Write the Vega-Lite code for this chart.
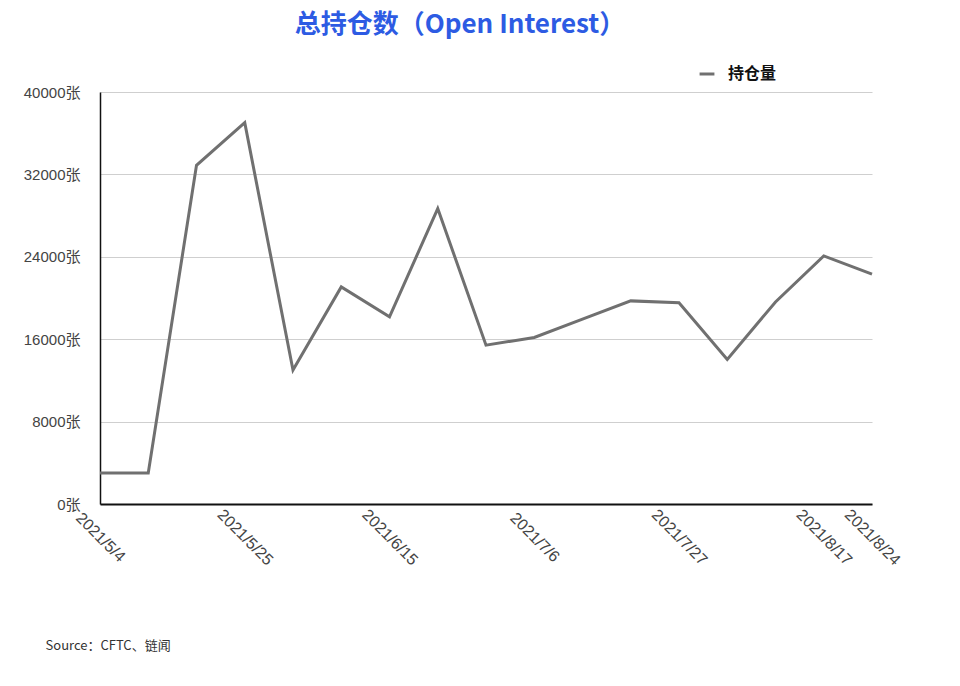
{
  "$schema": "https://vega.github.io/schema/vega-lite/v6.json",
  "width": 772,
  "height": 412,
  "autosize": {"type": "none"},
  "padding": {"left": 100, "top": 92, "right": 88, "bottom": 182},
  "background": "white",
  "title": {
    "text": "总持仓数（Open Interest）",
    "color": "#2d5be3",
    "font": "Liberation Sans Narrow, Noto Sans CJK SC",
    "fontSize": 26,
    "fontWeight": "bold",
    "anchor": "middle",
    "frame": "group",
    "dx": -26,
    "offset": 27
  },
  "data": {
    "values": [
      {"date": "2021/5/4", "series": "持仓量", "oi": 3000},
      {"date": "2021/5/11", "series": "持仓量", "oi": 3000},
      {"date": "2021/5/18", "series": "持仓量", "oi": 32880},
      {"date": "2021/5/25", "series": "持仓量", "oi": 37020},
      {"date": "2021/6/1", "series": "持仓量", "oi": 13000},
      {"date": "2021/6/8", "series": "持仓量", "oi": 21080},
      {"date": "2021/6/15", "series": "持仓量", "oi": 18170},
      {"date": "2021/6/22", "series": "持仓量", "oi": 28680},
      {"date": "2021/6/29", "series": "持仓量", "oi": 15420},
      {"date": "2021/7/6", "series": "持仓量", "oi": 16170},
      {"date": "2021/7/13", "series": "持仓量", "oi": 17940},
      {"date": "2021/7/20", "series": "持仓量", "oi": 19720},
      {"date": "2021/7/27", "series": "持仓量", "oi": 19530},
      {"date": "2021/8/3", "series": "持仓量", "oi": 14030},
      {"date": "2021/8/10", "series": "持仓量", "oi": 19620},
      {"date": "2021/8/17", "series": "持仓量", "oi": 24090},
      {"date": "2021/8/24", "series": "持仓量", "oi": 22310}
    ]
  },
  "mark": {"type": "line", "strokeWidth": 3, "strokeJoin": "miter"},
  "encoding": {
    "x": {
      "field": "date",
      "type": "ordinal",
      "sort": null,
      "scale": {"type": "point", "padding": 0},
      "axis": {
        "values": ["2021/5/4", "2021/5/25", "2021/6/15", "2021/7/6", "2021/7/27", "2021/8/17", "2021/8/24"],
        "labelAngle": 45,
        "labelAlign": "center",
        "labelBaseline": "middle",
        "labelPadding": 33,
        "labelFont": "Liberation Sans, Noto Sans CJK SC",
        "labelFontSize": 16,
        "labelColor": "#444444",
        "ticks": false,
        "grid": false,
        "domainColor": "#111111",
        "domainWidth": 2,
        "title": "Source：CFTC、链闻",
        "titleFont": "Liberation Sans Narrow, Noto Sans CJK SC",
        "titleFontSize": 13,
        "titleFontWeight": "normal",
        "titleColor": "#333333",
        "titleAlign": "left",
        "titleBaseline": "middle",
        "titleAnchor": "start",
        "titleX": -55,
        "titleY": 141
      }
    },
    "y": {
      "field": "oi",
      "type": "quantitative",
      "scale": {"domain": [0, 40000]},
      "axis": {
        "values": [0, 8000, 16000, 24000, 32000, 40000],
        "labelExpr": "datum.value + '张'",
        "labelFont": "Liberation Sans, Noto Sans CJK SC",
        "labelFontSize": 15,
        "labelColor": "#444444",
        "labelPadding": 20,
        "ticks": false,
        "grid": true,
        "gridColor": "#cfcfcf",
        "gridWidth": 1,
        "domainColor": "#111111",
        "domainWidth": 1.5,
        "title": null
      }
    },
    "color": {
      "field": "series",
      "type": "nominal",
      "scale": {"range": ["#707070"]},
      "legend": {
        "title": null,
        "orient": "none",
        "legendX": 598,
        "legendY": -27,
        "symbolType": "stroke",
        "symbolStrokeWidth": 3,
        "symbolSize": 220,
        "labelOffset": 12,
        "labelFont": "Liberation Sans, Noto Sans CJK SC",
        "labelFontSize": 16,
        "labelFontWeight": "bold",
        "labelColor": "#111111"
      }
    }
  },
  "config": {"view": {"stroke": null}}
}
